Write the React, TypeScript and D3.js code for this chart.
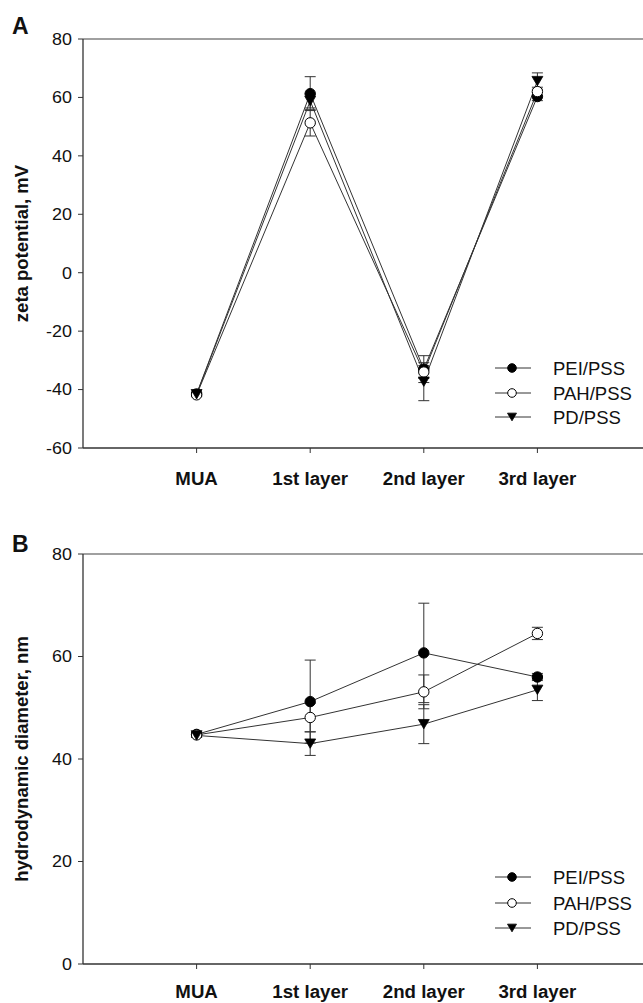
import React from 'react';
import * as d3 from 'd3';

// categories along the x axis
const categories = ['MUA', '1st layer', '2nd layer', '3rd layer'];
const seriesNames = ['PEI/PSS', 'PAH/PSS', 'PD/PSS'];

// panel A: zeta potential, mV
const zetaPEI = [-41.5, 61.3, -33.0, 60.3];
const zetaPEIErr = [0.6, 5.8, 4.6, 1.4];
const zetaPAH = [-41.8, 51.3, -34.0, 62.0];
const zetaPAHErr = [0.6, 4.5, 2.2, 1.5];
const zetaPD = [-41.6, 58.8, -37.3, 65.6];
const zetaPDErr = [0.6, 2.4, 6.5, 2.8];
const zetaTicks = [-60, -40, -20, 0, 20, 40, 60, 80];

// panel B: hydrodynamic diameter, nm
const sizePEI = [44.8, 51.2, 60.7, 56.0];
const sizePEIErr = [0.4, 8.1, 9.7, 0.7];
const sizePAH = [44.7, 48.1, 53.1, 64.5];
const sizePAHErr = [0.4, 2.8, 3.3, 1.2];
const sizePD = [44.6, 43.0, 46.8, 53.5];
const sizePDErr = [0.4, 2.3, 3.8, 2.1];
const sizeTicks = [0, 20, 40, 60, 80];

const FONT = '"Liberation Sans", Arial, sans-serif';
const markerKinds = ['filled', 'open', 'tri'];

const Marker = ({ kind, x, y, r }) => {
  if (kind === 'tri') {
    const h = r * 1.8;
    const w = r * 2.1;
    const p = d3.path();
    p.moveTo(x - w / 2, y - h / 2);
    p.lineTo(x + w / 2, y - h / 2);
    p.lineTo(x, y + h / 2);
    p.closePath();
    return <path d={p.toString()} fill="#000" stroke="#000" strokeWidth={0.8} />;
  }
  return (
    <circle cx={x} cy={y} r={r} fill={kind === 'filled' ? '#000' : '#fff'} stroke="#000" strokeWidth={1} />
  );
};

const Txt = ({ x, y, children, anchor = 'middle', size = 16, bold = false, sx = 1, rotate = 0 }) => (
  <g transform={`translate(${x},${y}) rotate(${rotate}) scale(${sx},1)`}>
    <text
      textAnchor={anchor}
      fontSize={size}
      fontWeight={bold ? 'bold' : 'normal'}
      fontFamily={FONT}
      fill="#111"
    >
      {children}
    </text>
  </g>
);

const Panel = ({ label, top, bottom, domain, ticks, title, series, errs, legendY, labelY, labelBase }) => {
  const x = d3.scaleLinear().domain([0, 5]).range([83, 651]);
  const y = d3.scaleLinear().domain(domain).range([bottom, top]);
  const line = d3.line().x((d, i) => x(i + 1)).y(d => y(d));
  const cap = 5.5;

  return (
    <g>
      <Txt x={12} y={labelBase} anchor="start" size={23} bold>{label}</Txt>
      {/* frame: top line, left axis, bottom axis */}
      <line x1={83} x2={651} y1={top} y2={top} stroke="#808080" strokeWidth={1.5} />
      <line x1={83} x2={83} y1={top} y2={bottom} stroke="#333" strokeWidth={1.3} />
      <line x1={83} x2={651} y1={bottom} y2={bottom} stroke="#333" strokeWidth={1.3} />
      {ticks.map(t => (
        <g key={t}>
          <line x1={78} x2={83} y1={y(t)} y2={y(t)} stroke="#333" strokeWidth={1} />
          <Txt x={72} y={y(t) + 5.8} anchor="end" size={16} sx={1.12}>{t}</Txt>
        </g>
      ))}
      {categories.map((c, i) => (
        <g key={c}>
          <line x1={x(i + 1)} x2={x(i + 1)} y1={bottom} y2={bottom + 5} stroke="#333" strokeWidth={1} />
          <Txt x={x(i + 1)} y={labelY} size={18.5} bold sx={1.01}>{c}</Txt>
        </g>
      ))}
      <Txt x={28} y={(top + bottom) / 2} size={18.5} bold rotate={-90}>{title}</Txt>

      {/* error bars */}
      {series.map((s, k) =>
        s.map((v, i) => {
          const e = errs[k][i];
          const cx = x(i + 1);
          return (
            <g key={`e${k}-${i}`} stroke="#333" strokeWidth={1}>
              <line x1={cx} x2={cx} y1={y(v - e)} y2={y(v + e)} />
              <line x1={cx - cap} x2={cx + cap} y1={y(v + e)} y2={y(v + e)} />
              <line x1={cx - cap} x2={cx + cap} y1={y(v - e)} y2={y(v - e)} />
            </g>
          );
        })
      )}
      {/* lines */}
      {series.map((s, k) => (
        <path key={`l${k}`} d={line(s)} fill="none" stroke="#333" strokeWidth={1} />
      ))}
      {/* markers */}
      {series.map((s, k) =>
        s.map((v, i) => <Marker key={`m${k}-${i}`} kind={markerKinds[k]} x={x(i + 1)} y={y(v)} r={5.2} />)
      )}

      {/* legend */}
      {seriesNames.map((n, k) => (
        <g key={n}>
          <line x1={495} x2={531} y1={legendY[k]} y2={legendY[k]} stroke="#333" strokeWidth={1} />
          <Marker kind={markerKinds[k]} x={512} y={legendY[k]} r={4.3} />
          <Txt x={553} y={legendY[k] + 6.5} anchor="start" size={18.5}>{n}</Txt>
        </g>
      ))}
    </g>
  );
};

export default function App() {
  return (
    <svg
      width={643}
      height={1003}
      style={{ position: 'absolute', left: 0, top: 0, display: 'block' }}
    >
      <rect width={643} height={1003} fill="#fff" />
      <Panel
        label="A"
        top={39}
        bottom={448}
        domain={[-60, 80]}
        ticks={zetaTicks}
        title="zeta potential, mV"
        series={[zetaPEI, zetaPAH, zetaPD]}
        errs={[zetaPEIErr, zetaPAHErr, zetaPDErr]}
        legendY={[368, 393, 417]}
        labelY={485}
        labelBase={34}
      />
      <Panel
        label="B"
        top={554}
        bottom={964}
        domain={[0, 80]}
        ticks={sizeTicks}
        title="hydrodynamic diameter, nm"
        series={[sizePEI, sizePAH, sizePD]}
        errs={[sizePEIErr, sizePAHErr, sizePDErr]}
        legendY={[877, 903, 928]}
        labelY={998}
        labelBase={552}
      />
    </svg>
  );
}
